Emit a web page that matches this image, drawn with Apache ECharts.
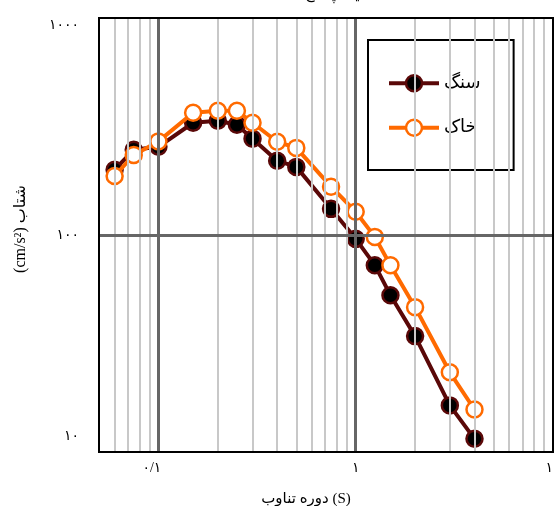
<!DOCTYPE html>
<html>
<head>
<meta charset="utf-8">
<script src="https://cdn.jsdelivr.net/npm/echarts@6/dist/echarts.min.js"></script>
<style>html,body{margin:0;padding:0;background:#fff}#c{width:554px;height:506px}</style>
</head>
<body>
<div id="c"></div>
<script>
// periods (s)
const periods = [0.06, 0.075, 0.1, 0.15, 0.2, 0.25, 0.3, 0.4, 0.5, 0.75, 1, 1.25, 1.5, 2, 3, 4];
// rock (سنگ) spectral acceleration, cm/s^2
const rockValues = [200, 247, 255, 329, 336, 322, 278, 220, 206, 132, 96, 72.6, 52.8, 34.2, 16.4, 11.5];
// soil (خاک) spectral acceleration, cm/s^2
const soilValues = [187, 234, 270, 366, 374, 374, 329, 269, 252, 167, 128, 98, 72.6, 46.5, 23.3, 15.7];
const seriesNames = ['سنگ', 'خاک'];
const xTickValues = [0.1, 1, 10];
const xTickLabels = ['۰/۱', '۱', '۱۰'];
const yTickValues = [10, 100, 1000];
const yTickLabels = ['۱۰', '۱۰۰', '۱۰۰۰'];
const xMinorGrid = [0.06, 0.07, 0.08, 0.09, 0.2, 0.3, 0.4, 0.5, 0.6, 0.7, 0.8, 0.9, 2, 3, 4, 5, 6, 7, 8, 9];
const xMajorGrid = [0.1, 1];
const yMajorGrid = [100];
const xTitle = 'دوره تناوب (S)';
const yTitle = '(cm/s²) شتاب';
const chartTitle = 'طیف پاسخ';

const font = "'Liberation Serif', 'DejaVu Serif', 'DejaVu Sans', serif";
function lookup(vals, labels, v) {
  for (let i = 0; i < vals.length; i++) if (Math.abs(Math.log10(v) - Math.log10(vals[i])) < 1e-6) return i;
  return -1;
}
const chart = echarts.init(document.getElementById('c'), null, {renderer: 'canvas'});
chart.setOption({
  animation: false,
  backgroundColor: '#fff',
  graphic: [{
    type: 'text', left: 305, top: -12,
    style: {text: chartTitle, font: "15px " + font, fill: '#000'}
  }],
  grid: {left: 99, right: 1, top: 18, bottom: 54, outerBoundsMode: 'none', containLabel: false,
         show: true, borderColor: '#000', borderWidth: 2, backgroundColor: 'transparent', z: 10},
  xAxis: {
    type: 'log', logBase: 10, min: 0.05, max: 10,
    axisLine: {show: true, lineStyle: {color: '#000', width: 2}},
    axisTick: {show: false},
    splitLine: {show: false},
    axisLabel: {
      margin: 9, color: '#000', fontSize: 14, fontFamily: font,
      formatter: v => {
        const i = lookup(xTickValues, xTickLabels, v);
        if (i < 0) return '';
        return i === 0 ? '{s|' + xTickLabels[i] + '}' : xTickLabels[i];
      },
      rich: {s: {color: '#000', fontSize: 14, fontFamily: font, padding: [0, 13, 0, 0]}}
    },
    name: xTitle, nameLocation: 'middle', nameGap: 40,
    nameTextStyle: {color: '#000', fontSize: 15, fontFamily: font, padding: [0, 40, 0, 0]}
  },
  yAxis: {
    type: 'log', logBase: 10, min: 10, max: 1000,
    axisLine: {show: true, lineStyle: {color: '#000', width: 2}},
    axisTick: {show: false},
    splitLine: {show: false},
    axisLabel: {
      margin: 20, color: '#000', fontSize: 14, fontFamily: font,
      verticalAlignMinLabel: 'bottom', verticalAlignMaxLabel: 'top',
      formatter: v => {
        const i = lookup(yTickValues, yTickLabels, v);
        if (i < 0) return '';
        return i === 0 ? '{lo|' + yTickLabels[i] + '}' : yTickLabels[i];
      },
      rich: {lo: {color: '#000', fontSize: 14, fontFamily: font, padding: [0, 0, 9, 0]}}
    },
    name: yTitle, nameLocation: 'middle', nameGap: 58, nameRotate: 90,
    nameTextStyle: {color: '#000', fontSize: 16, fontFamily: font, padding: [0, 0, 12, 12]}
  },
  legend: {
    left: 368, top: 40, orient: 'vertical',
    padding: [34, 33, 33, 19], itemGap: 26,
    itemWidth: 50, itemHeight: 20,
    borderColor: '#000', borderWidth: 2, backgroundColor: '#fff',
    lineStyle: {width: 4},
    itemStyle: {borderWidth: 2.5},
    textStyle: {color: '#000', fontSize: 18, fontFamily: font},
    data: seriesNames
  },
  series: [
    {
      type: 'line', name: 'grid', data: [], silent: true, z: 1,
      markLine: {
        silent: true, symbol: ['none', 'none'], label: {show: false}, animation: false,
        data: [
          ...xMinorGrid.map(v => ({xAxis: v, lineStyle: {color: '#c8c8c8', width: 2, type: 'solid'}})),
          ...xMajorGrid.map(v => ({xAxis: v, lineStyle: {color: '#666', width: 3, type: 'solid'}})),
          ...yMajorGrid.map(v => ({yAxis: v, lineStyle: {color: '#666', width: 3, type: 'solid'}}))
        ]
      }
    },
    {
      type: 'line', name: seriesNames[0], z: 3,
      data: periods.map((p, i) => [p, rockValues[i]]),
      symbol: 'circle', symbolSize: 16, showAllSymbol: true,
      lineStyle: {color: '#5a0808', width: 4},
      itemStyle: {color: '#000', borderColor: '#5a0808', borderWidth: 2.5}
    },
    {
      type: 'line', name: seriesNames[1], z: 4,
      data: periods.map((p, i) => [p, soilValues[i]]),
      symbol: 'circle', symbolSize: 16, showAllSymbol: true,
      lineStyle: {color: '#ff6a00', width: 4},
      itemStyle: {color: '#fff', borderColor: '#ff6a00', borderWidth: 2.5}
    }
  ]
});
</script>
</body>
</html>
